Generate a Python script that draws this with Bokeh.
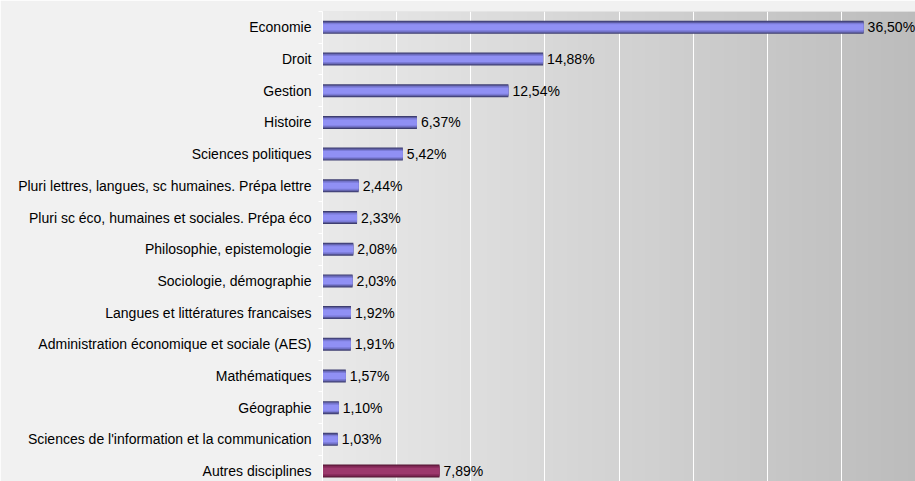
import numpy as np
from bokeh.plotting import figure
from bokeh.models import ColumnDataSource, Range1d, FixedTicker
from bokeh.core.properties import value
from bokeh.embed import file_html
from bokeh.resources import INLINE

categories = [
    "Economie",
    "Droit",
    "Gestion",
    "Histoire",
    "Sciences politiques",
    "Pluri lettres, langues, sc humaines. Prépa lettre",
    "Pluri sc éco, humaines et sociales. Prépa éco",
    "Philosophie, epistemologie",
    "Sociologie, démographie",
    "Langues et littératures francaises",
    "Administration économique et sociale (AES)",
    "Mathématiques",
    "Géographie",
    "Sciences de l'information et la communication",
    "Autres disciplines",
]
values = [36.50, 14.88, 12.54, 6.37, 5.42, 2.44, 2.33, 2.08, 2.03, 1.92, 1.91, 1.57, 1.10, 1.03, 7.89]
is_other = [False] * 14 + [True]
grid_ticks = [5, 10, 15, 20, 25, 30, 35, 40]

n = len(categories)
pos = list(range(n))
labels = [("%.2f" % v).replace(".", ",") + "%" for v in values]

X_END = 40.0
Y_TOP = -0.5
Y_BOT = 14.33

p = figure(width=915, height=481, output_backend="svg", toolbar_location=None,
           x_range=Range1d(0, X_END), y_range=Range1d(Y_BOT, Y_TOP))
p.min_border_left = 322
p.min_border_right = 0
p.min_border_top = 11
p.min_border_bottom = 0
p.border_fill_color = "#f1f1f1"
p.background_fill_color = "#d8d8d8"
p.outline_line_color = None

# background gradient in the plot area
ncol = 400
g = np.linspace(0xe9, 0xbc, ncol).round().astype(np.uint32)
row = (255 << 24) | (g << 16) | (g << 8) | g
img = np.vstack([row, row]).astype(np.uint32)
p.image_rgba(image=[img], x=0, y=Y_TOP, dw=X_END, dh=Y_BOT - Y_TOP, level="image")

# bars with cylinder-like shading
layers = [
    (0.41, "#3d3d70", "#561735"),
    (0.35, "#5c5ca0", "#74224c"),
    (0.28, "#7b7bd8", "#8c2d5e"),
    (0.19, "#9090f4", "#9c386c"),
]
for h, cb, co in layers:
    src = ColumnDataSource(dict(y=pos, right=values,
                                color=[co if o else cb for o in is_other]))
    p.hbar(y="y", left=0, right="right", height=h, fill_color="color",
           line_color=None, source=src)

# value labels
lsrc = ColumnDataSource(dict(x=values, y=pos, t=labels))
p.text(x="x", y="y", text="t", source=lsrc, x_offset=4, y_offset=0,
       text_baseline="middle", text_align="left",
       text_font=value("Liberation Sans"), text_font_size="14px", text_color="#000000")

# grid
p.xgrid.ticker = FixedTicker(ticks=grid_ticks)
p.xgrid.grid_line_color = "white"
p.xgrid.grid_line_width = 1
p.ygrid.grid_line_color = None
p.xaxis.visible = False

yax = p.yaxis[0]
yax.ticker = FixedTicker(ticks=pos, minor_ticks=[i - 0.5 for i in range(n + 1)])
yax.major_label_overrides = {i: c for i, c in zip(pos, categories)}
yax.major_label_text_font = "Liberation Sans"
yax.major_label_text_font_size = "14px"
yax.major_label_text_color = "#000000"
yax.major_label_standoff = 7
yax.major_tick_out = 0
yax.major_tick_in = 0
yax.major_tick_line_color = None
yax.minor_tick_out = 4
yax.minor_tick_in = 0
yax.minor_tick_line_color = "white"
yax.axis_line_color = "white"

open("out.html", "w").write(file_html(p, INLINE))
